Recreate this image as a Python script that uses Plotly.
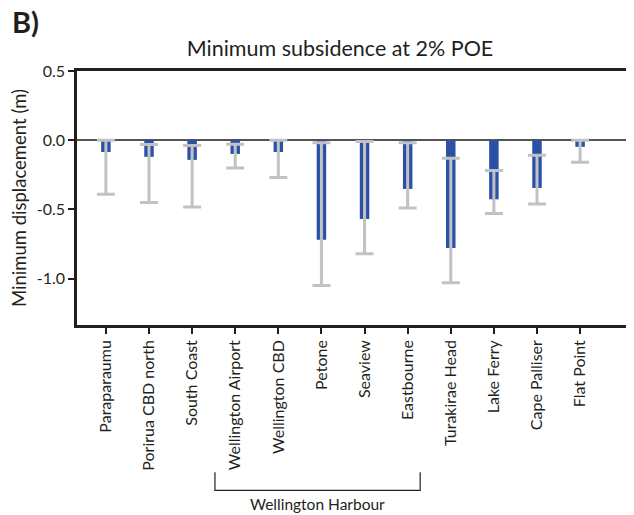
import plotly.graph_objects as go

locations = ["Paraparaumu", "Porirua CBD north", "South Coast", "Wellington Airport",
             "Wellington CBD", "Petone", "Seaview", "Eastbourne", "Turakirae Head",
             "Lake Ferry", "Cape Palliser", "Flat Point"]
min_disp = [-0.085, -0.12, -0.142, -0.099, -0.085, -0.72, -0.569, -0.352, -0.778, -0.427, -0.345, -0.048]
upper = [0.0, -0.031, -0.039, -0.029, 0.0, -0.019, -0.01, -0.019, -0.13, -0.219, -0.108, 0.0]
lower = [-0.39, -0.45, -0.482, -0.20, -0.27, -1.05, -0.82, -0.49, -1.03, -0.53, -0.46, -0.159]
y_ticks = [0.5, 0.0, -0.5, -1.0]
group_label = "Wellington Harbour"

err_plus = [u - v for u, v in zip(upper, min_disp)]
err_minus = [v - l for v, l in zip(min_disp, lower)]

FONT = "Lato"
W, H = 626, 507
fig = go.Figure()
fig.add_trace(go.Bar(
    x=list(range(len(locations))), y=min_disp,
    marker=dict(color="#2a51a6", line=dict(width=0)),
    error_y=dict(type="data", symmetric=False, array=err_plus, arrayminus=err_minus,
                 color="#c2c2c6", thickness=3, width=9),
))

fig.update_layout(
    width=W, height=H,
    margin=dict(l=69, r=0, t=63, b=190),
    plot_bgcolor="white", paper_bgcolor="white",
    bargap=0.78, showlegend=False,
    font=dict(family=FONT, color="#231f20"),
    title=dict(text="Minimum subsidence at 2% POE", x=332 / W, xanchor="center",
               y=1 - 40 / H, yanchor="middle", yref="container",
               font=dict(size=21.5, family=FONT, color="#231f20")),
)
fig.update_xaxes(
    range=[-0.67, 12.25], tickmode="array", tickvals=list(range(len(locations))),
    ticktext=locations, tickangle=-90, tickfont=dict(size=16, family=FONT),
    showline=True, linecolor="#231f20", linewidth=2.5, mirror=True,
    ticks="outside", ticklen=6, tickwidth=2, tickcolor="#231f20",
    showgrid=False, zeroline=False,
)
fig.update_yaxes(
    range=[-1.335, 0.5], tickmode="array", tickvals=y_ticks,
    ticktext=[f"{v:.1f}" for v in y_ticks], tickfont=dict(size=16, family=FONT),
    showline=True, linecolor="#231f20", linewidth=2.5,
    ticks="outside", ticklen=6, tickwidth=2, tickcolor="#231f20",
    showgrid=False, zeroline=True, zerolinecolor="#555555", zerolinewidth=2,
    title=dict(text="Minimum displacement (m)", font=dict(size=18.5, family=FONT), standoff=8),
)

# panel label
fig.add_annotation(text="<b>B)</b>", xref="paper", yref="paper", x=-0.121, y=1.195,
                   xanchor="left", yanchor="middle", showarrow=False,
                   font=dict(size=29, family=FONT, color="#231f20"))

# bracket for group
x0, x1 = 2.53, 7.29
fig.add_shape(type="path", xref="x", yref="paper",
              path=f"M {x0} -0.58 L {x0} -0.651 L {x1} -0.651 L {x1} -0.58",
              line=dict(color="#231f20", width=1.2))
fig.add_annotation(text=group_label, xref="x", yref="paper", x=(x0 + x1) / 2, y=-0.703,
                   xanchor="center", yanchor="middle", showarrow=False,
                   font=dict(size=15.5, family=FONT, color="#231f20"))

fig.write_html("out.html")
